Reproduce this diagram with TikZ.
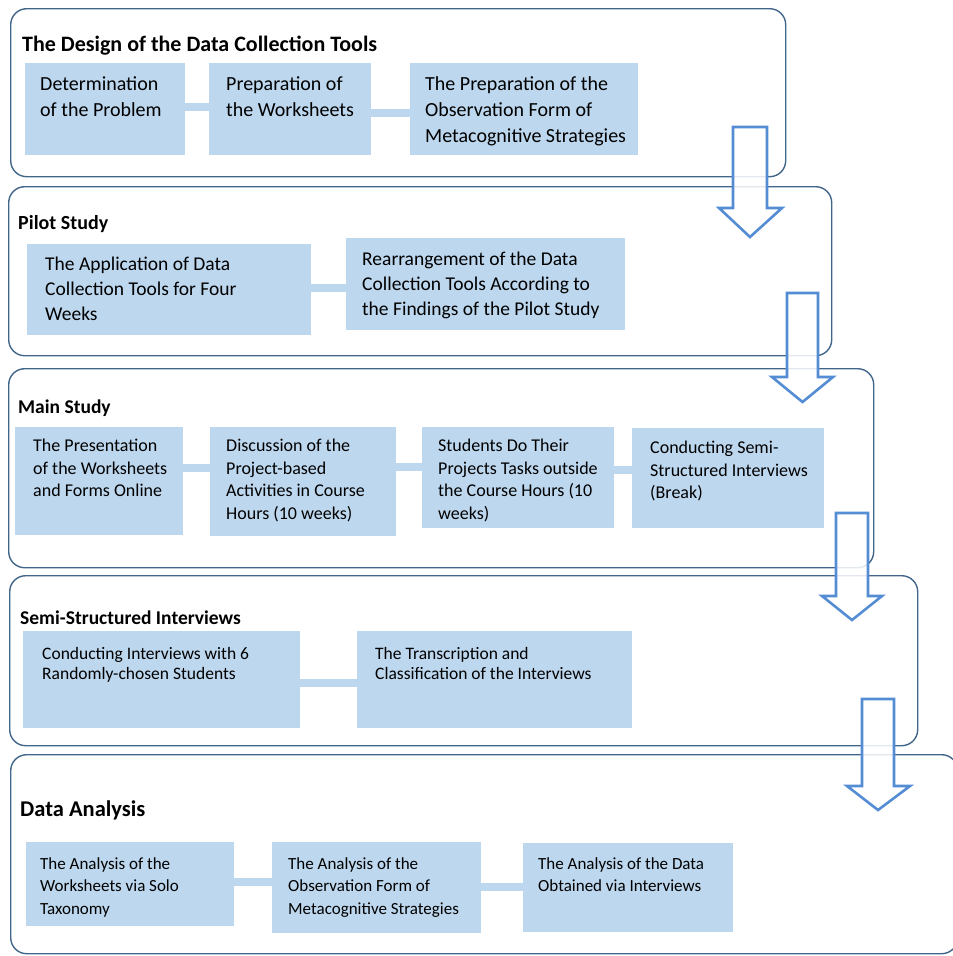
\documentclass[tikz,border=0pt]{standalone}
\usepackage{fontspec}
\setmainfont{Carlito}
\definecolor{boxc}{RGB}{189,215,238}
\definecolor{panelc}{RGB}{66,102,138}
\definecolor{arrowc}{RGB}{84,141,212}
\newcommand\bbox[5]{\node[boxst, minimum width={(#4-#2)*1pt}, minimum height={(#5-#3)*1pt}] (#1) at (#2,#3) {};}
\newcommand\pnl[5]{\node[panelst, minimum width={(#4-#2)*1pt}, minimum height={(#5-#3)*1pt}] (#1) at (#2,#3) {};}
\tikzset{
  panelst/.style={draw=panelc, line width=1.4pt, rounded corners=16pt, anchor=north west, inner sep=0pt, fill=white},
  boxst/.style={fill=boxc, draw=none, anchor=north west, inner sep=0pt},
  txt/.style={anchor=north west, inner sep=0pt, align=left, text=black},
  ttl/.style={anchor=base west, inner sep=0pt, text=black},
  conn/.style={draw=boxc, line width=7.5pt},
  bigarrow/.style={draw=arrowc, line width=2.6pt, fill=white, fill opacity=0.85, line join=miter}
}
\begin{document}
\begin{tikzpicture}[x=1pt,y=-1pt]
\useasboundingbox (0,0) rectangle (953,956);
% panels
\pnl{p1}{10}{8}{785}{176}
\pnl{p2}{8}{186}{831}{355}
\pnl{p3}{8}{368}{873}{567}
\pnl{p4}{9}{575}{917}{745}
\pnl{p5}{10}{754}{957}{953}
% titles
\node[ttl, font=\fontsize{22}{26}\selectfont\bfseries] (h1) at (22,51) {The Design of the Data Collection Tools};
\node[ttl, font=\fontsize{20}{24}\selectfont\bfseries] (h2) at (18,229) {Pilot Study};
\node[ttl, font=\fontsize{19.5}{24}\selectfont\bfseries] (h3) at (18,413) {Main Study};
\node[ttl, font=\fontsize{19.5}{24}\selectfont\bfseries] (h4) at (20,624) {Semi-Structured Interviews};
\node[ttl, font=\fontsize{22.5}{26}\selectfont\bfseries] (h5) at (20,816) {Data Analysis};
% boxes
\bbox{b11}{25}{63}{185}{155}
\bbox{b12}{209}{63}{371}{155}
\bbox{b13}{410}{63}{638}{155}
\bbox{b21}{27}{244}{311}{335}
\bbox{b22}{346}{238}{625}{330}
\bbox{b31}{15}{427}{183}{535}
\bbox{b32}{210}{427}{396}{536}
\bbox{b33}{422}{427}{614}{528}
\bbox{b34}{632}{428}{824}{528}
\bbox{b41}{23}{631}{300}{728}
\bbox{b42}{357}{631}{632}{728}
\bbox{b51}{26}{842}{234}{926}
\bbox{b52}{272}{842}{481}{933}
\bbox{b53}{523}{843}{733}{932}
% connectors
\draw[conn] (b11.east |- 0,107) -- (b12.west |- 0,107);
\draw[conn] (b12.east |- 0,113) -- (b13.west |- 0,113);
\draw[conn] (b21.east |- 0,288) -- (b22.west |- 0,288);
\draw[conn] (b31.east |- 0,468) -- (b32.west |- 0,468);
\draw[conn] (b32.east |- 0,467) -- (b33.west |- 0,467);
\draw[conn] (b33.east |- 0,470) -- (b34.west |- 0,470);
\draw[conn] (b41.east |- 0,683) -- (b42.west |- 0,683);
\draw[conn] (b51.east |- 0,882) -- (b52.west |- 0,882);
\draw[conn] (b52.east |- 0,887) -- (b53.west |- 0,887);
% texts
\begin{scope}[every node/.append style={font=\fontsize{20}{26}\selectfont}]
\node[txt] (t11) at ([shift={(15pt,-13pt)}]b11.north west) {Determination\\of the Problem};
\node[txt] (t12) at ([shift={(17pt,-13pt)}]b12.north west) {Preparation of\\the Worksheets};
\node[txt] (t13) at ([shift={(15pt,-13pt)}]b13.north west) {The Preparation of the\\Observation Form of\\Metacognitive Strategies};
\end{scope}
\begin{scope}[every node/.append style={font=\fontsize{19.5}{25}\selectfont}]
\node[txt] (t21) at ([shift={(18pt,-13pt)}]b21.north west) {The Application of Data\\Collection Tools for Four\\Weeks};
\node[txt] (t22) at ([shift={(16pt,-14pt)}]b22.north west) {Rearrangement of the Data\\Collection Tools According to\\the Findings of the Pilot Study};
\end{scope}
\begin{scope}[every node/.append style={font=\fontsize{18}{22.5}\selectfont}]
\node[txt] (t31) at ([shift={(18pt,-12pt)}]b31.north west) {The Presentation\\of the Worksheets\\and Forms Online};
\node[txt] (t32) at ([shift={(16pt,-12pt)}]b32.north west) {Discussion of the\\Project-based\\Activities in Course\\Hours (10 weeks)};
\node[txt] (t33) at ([shift={(16pt,-12pt)}]b33.north west) {Students Do Their\\Projects Tasks outside\\the Course Hours (10\\weeks)};
\node[txt] (t34) at ([shift={(18pt,-13pt)}]b34.north west) {Conducting Semi-\\Structured Interviews\\(Break)};
\end{scope}
\begin{scope}[every node/.append style={font=\fontsize{17.5}{20}\selectfont}]
\node[txt] (t41) at ([shift={(19pt,-16pt)}]b41.north west) {Conducting Interviews with 6\\Randomly-chosen Students};
\node[txt] (t42) at ([shift={(18pt,-16pt)}]b42.north west) {The Transcription and\\Classification of the Interviews};
\end{scope}
\begin{scope}[every node/.append style={font=\fontsize{17}{22.5}\selectfont}]
\node[txt] (t51) at ([shift={(14pt,-15pt)}]b51.north west) {The Analysis of the\\Worksheets via Solo\\Taxonomy};
\node[txt] (t52) at ([shift={(16pt,-15pt)}]b52.north west) {The Analysis of the\\Observation Form of\\Metacognitive Strategies};
\node[txt] (t53) at ([shift={(15pt,-14pt)}]b53.north west) {The Analysis of the Data\\Obtained via Interviews};
\end{scope}
% big arrows
\draw[bigarrow] (733,127) -- (767,127) -- (767,208) -- (782,208) -- (750,237) -- (719,208) -- (733,208) -- cycle;
\draw[bigarrow] (787,293) -- (818,293) -- (818,377) -- (833,377) -- (802.5,402) -- (772,377) -- (787,377) -- cycle;
\draw[bigarrow] (836,513) -- (868,513) -- (868,596) -- (882,596) -- (852,620) -- (822,596) -- (836,596) -- cycle;
\draw[bigarrow] (862,699) -- (894,699) -- (894,786) -- (910,786) -- (878,810) -- (847,786) -- (862,786) -- cycle;
\end{tikzpicture}
\end{document}
